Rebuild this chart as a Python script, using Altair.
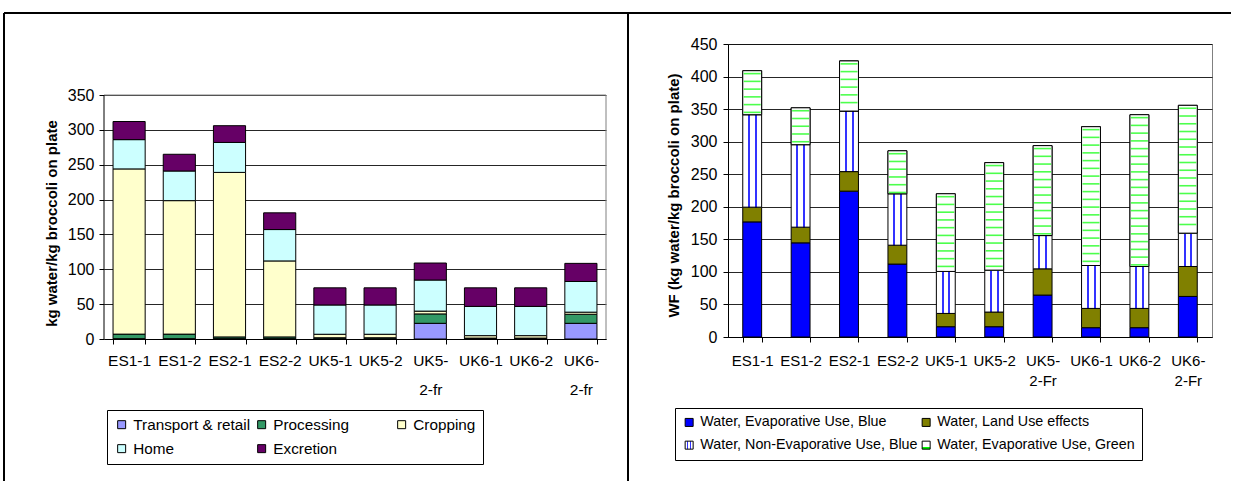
import altair as alt
import pandas as pd

# ---------------- left panel: water use by life-cycle stage ----------------
left_cats = ["ES1-1", "ES1-2", "ES2-1", "ES2-2", "UK5-1", "UK5-2",
             "UK5-2-fr", "UK6-1", "UK6-2", "UK6-2-fr"]
left_series = ["Transport & retail", "Processing", "Cropping", "Home", "Excretion"]
left_colors = ["#9999FF", "#339966", "#FFFFCC", "#CCFFFF", "#660066"]

transport = [0.5, 0.5, 0.5, 0.5, 0.3, 0.3, 22.5, 0.3, 0.3, 22.5]
processing = [6.5, 6.5, 2.5, 2.5, 1.5, 1.5, 13.5, 1.0, 1.0, 13.0]
cropping = [237.0, 191.5, 236.0, 109.0, 5.0, 5.0, 4.0, 3.5, 3.5, 3.0]
home = [42.0, 42.5, 43.0, 45.0, 42.0, 42.0, 44.6, 42.0, 42.0, 44.0]
excretion = [26.0, 24.0, 24.0, 24.0, 24.6, 24.6, 24.4, 26.6, 26.6, 26.0]
left_ticks = [0, 50, 100, 150, 200, 250, 300, 350]

# ---------------- right panel: water footprint by type ----------------
right_cats = ["ES1-1", "ES1-2", "ES2-1", "ES2-2", "UK5-1", "UK5-2",
              "UK5-2-Fr", "UK6-1", "UK6-2", "UK6-2-Fr"]
right_series = ["Water, Evaporative Use, Blue", "Water, Land Use effects",
                "Water, Non-Evaporative Use, Blue", "Water, Evaporative Use, Green"]

evap_blue = [176.8, 144.6, 224.0, 112.0, 15.8, 15.8, 64.4, 14.3, 14.3, 62.3]
land_use = [22.6, 24.1, 30.0, 29.0, 20.4, 22.5, 40.3, 29.6, 29.6, 46.0]
non_evap_blue = [142.0, 126.7, 93.0, 79.0, 64.5, 64.4, 51.1, 65.9, 64.4, 51.2]
evap_green = [67.6, 56.6, 77.0, 66.0, 119.3, 165.1, 138.1, 213.2, 233.1, 196.3]
right_ticks = [0, 50, 100, 150, 200, 250, 300, 350, 400, 450]

FONT = "Liberation Sans"


def stacked(cats, names, columns):
    """Long table with the lower and upper edge of every stacked segment."""
    rows = []
    for i, cat in enumerate(cats):
        base = 0.0
        for k, (name, col) in enumerate(zip(names, columns)):
            rows.append({"cat": cat, "series": name, "k": k,
                         "lo": base, "hi": base + col[i]})
            base += col[i]
    return pd.DataFrame(rows)


dfL = stacked(left_cats, left_series,
              [transport, processing, cropping, home, excretion])
dfR = stacked(right_cats, right_series,
              [evap_blue, land_use, non_evap_blue, evap_green])

# horizontal hatch lines inside the green segments (one every ~12 units)
hatch = []
for _, r in dfR[dfR["series"] == right_series[3]].iterrows():
    y = r["hi"] - 4.5
    while y > r["lo"] + 2:
        hatch.append({"cat": r["cat"], "yy": y})
        y -= 11.9
dfH = pd.DataFrame(hatch)

# vertical blue stripes for the non-evaporative blue water
stripes = (
    "{gradient: 'linear', x1: 0, y1: 0, x2: 1, y2: 0, stops: ["
    "{offset: 0, color: '#ffffff'}, {offset: 0.28, color: '#ffffff'},"
    "{offset: 0.28, color: '#3333ff'}, {offset: 0.38, color: '#3333ff'},"
    "{offset: 0.38, color: '#ffffff'}, {offset: 0.64, color: '#ffffff'},"
    "{offset: 0.64, color: '#3333ff'}, {offset: 0.74, color: '#3333ff'},"
    "{offset: 0.74, color: '#ffffff'}, {offset: 1, color: '#ffffff'}]}"
)
# legend swatch of the green water: white with a green lower edge
green_swatch = (
    "{gradient: 'linear', x1: 0, y1: 0, x2: 0, y2: 1, stops: ["
    "{offset: 0, color: '#ffffff'}, {offset: 0.72, color: '#ffffff'},"
    "{offset: 0.72, color: '#00ff00'}, {offset: 1, color: '#00ff00'}]}"
)
right_colors = ["#0000FF", "#808000", alt.ExprRef(expr=stripes),
                alt.ExprRef(expr=green_swatch)]

split_label = ("length(datum.label) > 5 ? "
               "[slice(datum.label, 0, 4), slice(datum.label, 4)] : datum.label")

one = pd.DataFrame({"k": [0]})


def frame(x1, x2, y1, y2):
    """Black outline of the figure's table cells."""
    return alt.Chart(one).mark_rule(color="black", strokeWidth=2).encode(
        x=alt.value(x1), x2=alt.value(x2), y=alt.value(y1), y2=alt.value(y2))


def legend(cols, x, y, size, colpad):
    return alt.Legend(
        title=None, orient="none", legendX=x, legendY=y, columns=cols,
        gridAlign="all", direction="horizontal",
        symbolType="square", symbolSize=64, symbolStrokeColor="black",
        symbolStrokeWidth=1, labelFont=FONT, labelFontSize=size,
        labelColor="black", labelLimit=400, labelOffset=4,
        columnPadding=colpad, rowPadding=8, padding=7,
        strokeColor="black", fillColor="white")


# ---------------- left chart ----------------
WL, HL = 502, 295
L_TOP = 423.2          # scale top so that 350 sits 51 px below the panel top
xL = alt.X("cat:N", sort=left_cats,
           scale=alt.Scale(paddingInner=0.36, paddingOuter=0.18),
           axis=alt.Axis(title=None, labelAngle=0, tickBand="extent",
                         labelExpr=split_label, labelLineHeight=29,
                         labelFontSize=15.5, labelPadding=9, tickSize=5,
                         grid=False))
yL_scale = alt.Scale(domain=[0, L_TOP], nice=False)
barsL = alt.Chart(dfL).mark_bar(stroke="black", strokeWidth=1).encode(
    x=xL,
    y=alt.Y("lo:Q", scale=yL_scale,
            axis=alt.Axis(values=left_ticks, title="kg water/kg broccoli on plate",
                          titleFontWeight="bold", titleFontSize=15,
                          titlePadding=8, titleY=179, labelFontSize=16,
                          labelPadding=5, tickSize=5, grid=True,
                          domain=False, labelOverlap=False)),
    y2="hi:Q",
    color=alt.Color("series:N", sort=left_series,
                    scale=alt.Scale(domain=left_series, range=left_colors),
                    legend=legend(3, 3, 366, 15.3, 3)),
    order=alt.Order("k:Q"),
)
# plot-area outline: black axis line on the left, grey border top and right
axis_line = alt.Chart(one).mark_rule(color="black", strokeWidth=1).encode(
    x=alt.value(0), y=alt.datum(0, scale=yL_scale), y2=alt.datum(350))
border_top = alt.Chart(one).mark_rule(color="#808080", strokeWidth=1).encode(
    x=alt.value(0), x2=alt.value(WL), y=alt.datum(350, scale=yL_scale))
border_right = alt.Chart(one).mark_rule(color="#808080", strokeWidth=1).encode(
    x=alt.value(WL), y=alt.datum(0, scale=yL_scale), y2=alt.datum(350))
left = alt.layer(
    barsL, border_top, border_right, axis_line,
    frame(-100, 524, -31, -31),
    frame(-100, -100, -31, 437),
).properties(width=WL, height=HL, view=alt.ViewBackground(strokeOpacity=0))

# ---------------- right chart ----------------
WR, HR = 484, 293
xR = alt.X("cat:N", sort=right_cats,
           scale=alt.Scale(paddingInner=0.61, paddingOuter=0.305),
           axis=alt.Axis(title=None, labelAngle=0, tickBand="extent",
                         labelExpr=split_label, labelLineHeight=20,
                         labelFontSize=15, labelPadding=11, tickSize=5,
                         grid=False))
yR_scale = alt.Scale(domain=[0, 450], nice=False)
yR_axis = alt.Axis(values=right_ticks, title="WF (kg water/kg broccoli on plate)",
                   titleFontWeight="bold", titleFontSize=15, titlePadding=9,
                   titleY=151, labelFontSize=16, labelPadding=6, tickSize=5,
                   grid=True, labelOverlap=False)
barsR = alt.Chart(dfR).mark_bar(stroke="black", strokeWidth=1).encode(
    x=xR,
    y=alt.Y("lo:Q", scale=yR_scale, axis=yR_axis),
    y2="hi:Q",
    color=alt.Color("series:N", sort=right_series,
                    scale=alt.Scale(domain=right_series, range=right_colors),
                    legend=legend(2, -53, 364, 14.3, 1)),
    order=alt.Order("k:Q"),
)
# green segments: white ground, black outline, then the hatch lines on top
groundR = alt.Chart(dfR[dfR["series"] == right_series[3]]).mark_bar(
    fill="white", stroke="black", strokeWidth=1).encode(
    x=xR, y=alt.Y("lo:Q", scale=yR_scale, axis=yR_axis), y2="hi:Q")
hatchR = alt.Chart(dfH).mark_tick(color="#00FF00", thickness=1.6, size=17,
                                  orient="horizontal").encode(
    x=xR, y=alt.Y("yy:Q", scale=yR_scale, axis=yR_axis))
right = alt.layer(
    barsR, groundR, hatchR,
    frame(-100, 503, -31, -31),
    frame(-100, -100, -31, 437),
).properties(width=WR, height=HR,
             view=alt.ViewBackground(stroke="#808080", strokeWidth=1))

chart = (
    alt.hconcat(left, right, spacing=122, bounds="flush")
    .resolve_scale(color="independent")
    .properties(padding={"left": 3, "top": 11, "right": 0, "bottom": 0},
                background="white")
    .configure(font=FONT)
    .configure_axis(labelFont=FONT, titleFont=FONT, labelColor="black",
                    titleColor="black", domainColor="black", tickColor="black",
                    gridColor="#000000", gridWidth=1, gridOpacity=0.85,
                    domainWidth=1)
)

chart.save("out.html", embed_options={"renderer": "svg", "actions": False})
